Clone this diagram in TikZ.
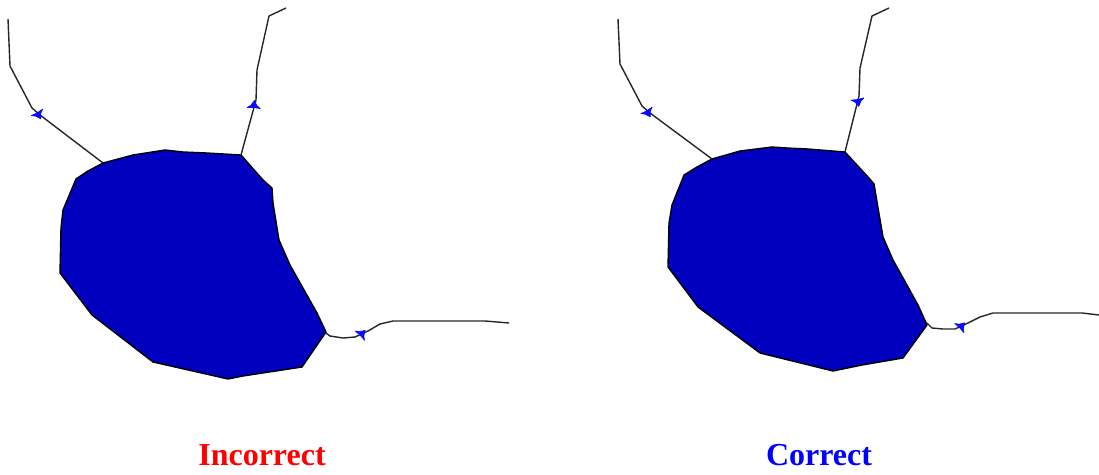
\documentclass[tikz,border=0pt]{standalone}
\usepackage{fontspec}
\setmainfont{Liberation Serif}
\usepackage{xcolor}
\definecolor{basin}{HTML}{0000BE}
\definecolor{flow}{HTML}{0A0AFF}
\tikzset{
  basinfill/.style={fill=basin,draw=black,line width=1.4pt,line join=round},
  river/.style={draw=black!85,line width=1.4pt,line join=round},
  flowmark/.pic={\filldraw[flow,line width=0.7pt,line join=round] (4.5,0) -- (-0.5,3) -- (-3,6.5) -- (-2.5,0) -- (-3,-6.5) -- (-0.5,-3) -- cycle;},
  caption/.style={font=\fontsize{32}{34}\selectfont\bfseries}
}
\begin{document}
\begin{tikzpicture}[x=1pt,y=-1pt]
  \useasboundingbox (0,0) rectangle (1099,474);

  % Left panel: basin
  \path[basinfill] (103,163) -- (133,155) -- (165,150) -- (183,152) -- (207,153) -- (241,155) -- (263,180) -- (272,188)
    -- (273,203) -- (279,240) -- (290,265) -- (317,313) -- (326,332) -- (302,367) -- (243,376) -- (228,379)
    -- (153,362) -- (92,315) -- (60,273) -- (61,228) -- (63,210) -- (76,179) -- (88,171) -- cycle;

  % Left panel: rivers
  \path[river] (8,19) -- (10,66) -- (32,108) -- (40,115) -- (103,163);
  \path[river] (286,8) -- (269,16) -- (257,70) -- (256,100) -- (241,155);
  \path[river] (326,333) -- (330,336) -- (343,338) -- (355,337) -- (368,331) -- (380,324) -- (393,321) -- (485,321) -- (509,323);
  \pic[rotate=-60] at (38.5,115) {flowmark};
  \pic[rotate=85] at (254,105) {flowmark};
  \pic[rotate=45] at (362,333.5) {flowmark};

  % Right panel: basin
  \path[basinfill] (712,159) -- (740,151) -- (772,147) -- (787,148) -- (808,149) -- (845,152) -- (868,177) -- (874,184)
    -- (877,202) -- (883,237) -- (893,260) -- (918,305) -- (927,325) -- (903,358) -- (862,365) -- (833,371)
    -- (760,353) -- (698,307) -- (668,267) -- (669,223) -- (672,205) -- (684,175) -- (697,167) -- cycle;

  % Right panel: rivers
  \path[river] (618,19) -- (620,64) -- (642,106) -- (650,113) -- (712,159);
  \path[river] (889,8) -- (872,16) -- (860,68) -- (859,96) -- (845,152);
  \path[river] (927,323) -- (932,328) -- (943,329) -- (955,329) -- (968,323) -- (980,317) -- (993,313) -- (1082,313) -- (1099,315);
  \pic[rotate=-60] at (648,113) {flowmark};
  \pic[rotate=-80] at (858,102) {flowmark};
  \pic[rotate=45] at (961.5,326) {flowmark};

  % Captions
  \node[caption,red] (incorrect) at (262,455) {Incorrect};
  \node[caption,blue] (correct) at (819,455) {Correct};
\end{tikzpicture}
\end{document}
